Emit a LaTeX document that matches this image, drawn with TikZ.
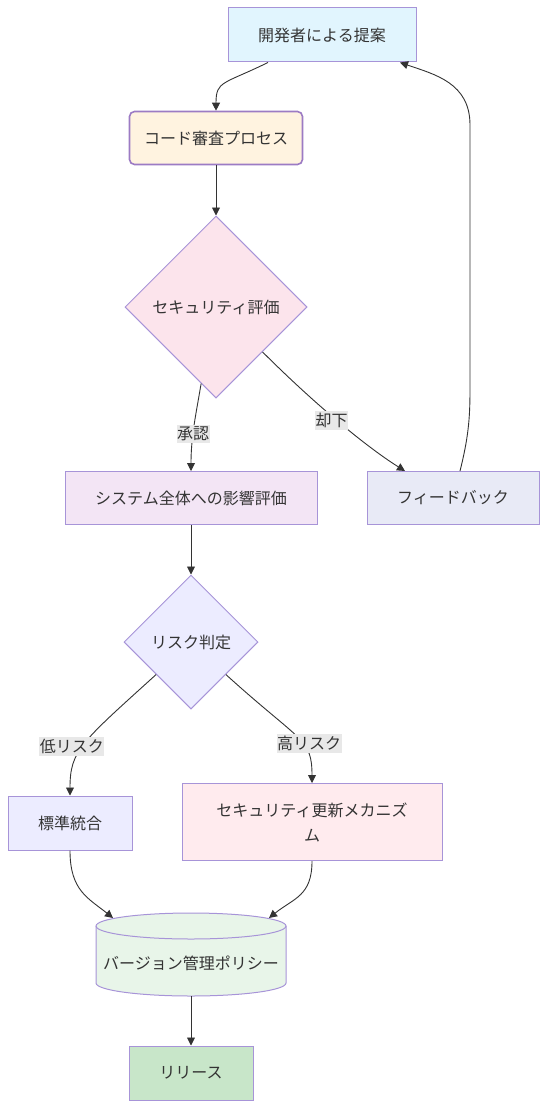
\documentclass[tikz,border=0pt]{standalone}
\usepackage{fontspec}
\setmainfont{Noto Sans CJK JP}
\usepackage{xcolor}
\usepackage{tikz}
\usetikzlibrary{shapes.geometric,arrows.meta}

\definecolor{inkgray}{HTML}{333333}
\definecolor{boxline}{HTML}{A794D8}
\definecolor{reviewline}{HTML}{9C7BC4}
\definecolor{labelbg}{HTML}{E8E8E8}
\definecolor{proposefill}{HTML}{E1F5FE}
\definecolor{reviewfill}{HTML}{FFF3E0}
\definecolor{securefill}{HTML}{FCE4EC}
\definecolor{impactfill}{HTML}{F3E5F5}
\definecolor{feedbackfill}{HTML}{E8EAF6}
\definecolor{riskfill}{HTML}{ECECFF}
\definecolor{updatefill}{HTML}{FFEBEE}
\definecolor{policyfill}{HTML}{E8F5E9}
\definecolor{releasefill}{HTML}{C8E6C9}

\tikzset{
    box/.style={rectangle, draw=boxline, line width=1pt, text=inkgray,
        font=\fontsize{16}{25}\selectfont, inner sep=0pt, minimum height=54pt},
    decision/.style={diamond, aspect=1, draw=boxline, line width=1pt, text=inkgray,
        font=\fontsize{16}{25}\selectfont, inner sep=0pt},
    flow/.style={draw=inkgray, line width=0.9pt, -{Triangle[length=8pt,width=8pt]}},
    lbl/.style={fill=labelbg, text=inkgray, font=\fontsize{16}{20}\selectfont,
        inner xsep=0.5pt, inner ysep=2pt}
}

\begin{document}
\begin{tikzpicture}[x=1pt,y=-1pt]
    \useasboundingbox (0,0) rectangle (547,1108);

    % Proposal and review
    \node[box, fill=proposefill, minimum width=188pt] (propose) at (322,35) {開発者による提案};
    \node[box, fill=reviewfill, draw=reviewline, line width=1.6pt, rounded corners=5pt,
        minimum width=173pt, minimum height=53pt] (review) at (216,138) {コード審査プロセス};

    % Security check
    \node[decision, fill=securefill, minimum width=182pt, minimum height=182pt] (secure) at (216,307) {セキュリティ評価};
    \node[box, fill=impactfill, minimum width=252pt, minimum height=53pt] (impact) at (191,498) {システム全体への影響評価};
    \node[box, fill=feedbackfill, minimum width=172pt, minimum height=53pt] (feedback) at (453,498) {フィードバック};

    % Risk
    \node[decision, fill=riskfill, minimum width=134pt, minimum height=134pt] (risk) at (191,642) {リスク判定};
    \node[box, fill=riskfill, minimum width=124pt] (standard) at (70,823) {標準統合};
    \node[box, fill=updatefill, minimum width=260pt, minimum height=77pt, align=center] (update) at (312,822)
        {セキュリティ更新メカニズ\\ム};

    % Policy (cylinder)
    \filldraw[fill=policyfill, draw=boxline, line width=1pt] (96,926) -- (96,983)
        arc[start angle=180, end angle=360, x radius=95pt, y radius=13pt] -- (286,926)
        arc[start angle=0, end angle=180, x radius=95pt, y radius=13pt] -- cycle;
    \draw[boxline, line width=1pt] (96,926) arc[start angle=180, end angle=360, x radius=95pt, y radius=13pt];
    \node[text=inkgray, font=\fontsize{16}{20}\selectfont] (policy) at (191,963) {バージョン管理ポリシー};
    \coordinate (policyinl) at (113,918);
    \coordinate (policyinr) at (269,918);
    \coordinate (policyout) at (191,996);

    % Release
    \node[box, fill=releasefill, minimum width=124pt] (release) at (191,1073) {リリース};

    % Connectors
    \draw[flow] ([xshift=-54]propose.south) .. controls +(-45,22) and +(0,-30) .. (review.north);
    \draw[flow] (review.south) -- (secure.north);
    \draw[flow] (secure.-101) .. controls +(-5,30) and +(0,-35) .. (impact.north)
        node[lbl, pos=0.6] (approve) {承認};
    \draw[flow] (secure.-44) .. controls +(50,50) and +(-40,-25) .. ([xshift=-48]feedback.north)
        node[lbl, pos=0.5, xshift=-6] (reject) {却下};
    \draw[flow] ([xshift=7]feedback.north) .. controls +(8,-32) and +(0,30) .. (470,390)
        -- (470,125) .. controls +(0,-42) and +(35,12) .. ([xshift=78]propose.south);
    \draw[flow] (impact.south) -- (risk.north);
    \draw[flow] (risk.-137) .. controls +(-75,68) and +(0,-45) .. (standard.north)
        node[lbl, pos=0.53, xshift=-11] (lowrisk) {低リスク};
    \draw[flow] (risk.-43) .. controls +(75,68) and +(0,-45) .. (update.north)
        node[lbl, pos=0.58, xshift=7] (highrisk) {高リスク};
    \draw[flow] (standard.south) .. controls +(0,40) and +(-25,-20) .. (policyinl);
    \draw[flow] (update.south) .. controls +(0,35) and +(25,-20) .. (policyinr);
    \draw[flow] (policyout) -- (release.north);
\end{tikzpicture}
\end{document}
